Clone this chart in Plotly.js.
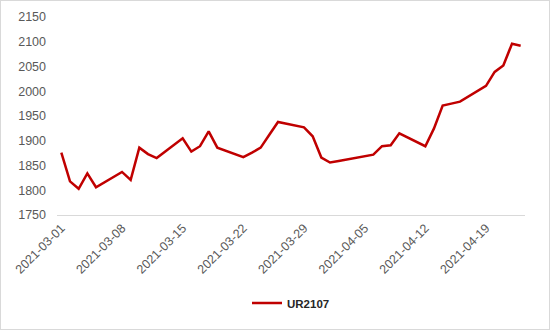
<!DOCTYPE html>
<html>
<head>
<meta charset="utf-8">
<script src="https://cdn.plot.ly/plotly-3.0.1.min.js"></script>
<style>
  html, body { margin: 0; padding: 0; background: #fff; }
  #chart { width: 548px; height: 328px; border: 1px solid #d9d9d9; }
</style>
</head>
<body>
<div id="chart"></div>
<script>
// Trading dates
const dates = [
  '2021-03-01','2021-03-02','2021-03-03','2021-03-04','2021-03-05',
  '2021-03-08','2021-03-09','2021-03-10','2021-03-11','2021-03-12',
  '2021-03-15','2021-03-16','2021-03-17','2021-03-18','2021-03-19',
  '2021-03-22','2021-03-23','2021-03-24','2021-03-25','2021-03-26',
  '2021-03-29','2021-03-30','2021-03-31','2021-04-01','2021-04-02',
  '2021-04-06','2021-04-07','2021-04-08','2021-04-09',
  '2021-04-12','2021-04-13','2021-04-14','2021-04-15','2021-04-16',
  '2021-04-19','2021-04-20','2021-04-21','2021-04-22','2021-04-23'
];
// UR2107 prices
const ur2107 = [
  1876, 1818, 1803, 1834, 1806,
  1837, 1821, 1886, 1873, 1865,
  1905, 1878, 1889, 1919, 1886,
  1867, 1876, 1886, 1912, 1938,
  1927, 1909, 1866, 1856, 1859,
  1872, 1889, 1891, 1915,
  1889, 1925, 1971, 1975, 1979,
  2011, 2039, 2052, 2096, 2092
];
const seriesName = 'UR2107';

const tickFont = { family: 'Liberation Sans, Arial, sans-serif', size: 12.5, color: '#595959' };

const trace = {
  x: dates,
  y: ur2107,
  type: 'scatter',
  mode: 'lines',
  name: seriesName,
  line: { color: '#C00000', width: 2.5 },
  showlegend: true
};

const layout = {
  width: 548,
  height: 328,
  margin: { l: 56, r: 24, t: 16, b: 111 },
  paper_bgcolor: '#ffffff',
  plot_bgcolor: '#ffffff',
  font: tickFont,
  xaxis: {
    type: 'date',
    range: ['2021-02-28 12:00', '2021-04-23 12:00'],
    tick0: '2021-03-01',
    dtick: 7 * 86400000,
    tickformat: '%Y-%m-%d',
    tickangle: -45,
    tickfont: tickFont,
    showgrid: false,
    zeroline: false,
    showline: true,
    linecolor: '#d9d9d9',
    linewidth: 1,
    ticks: ''
  },
  yaxis: {
    range: [1750, 2150],
    dtick: 50,
    tickfont: tickFont,
    showgrid: false,
    zeroline: false,
    showline: false,
    ticks: '',
    ticklabelstandoff: 10
  },
  showlegend: true,
  legend: {
    orientation: 'h',
    x: 0.5,
    xanchor: 'center',
    y: -0.445,
    yanchor: 'middle',
    font: { family: 'Liberation Sans, Arial, sans-serif', size: 11.5, color: '#262626', weight: 'bold' }
  }
};

Plotly.newPlot('chart', [trace], layout, { staticPlot: true, displayModeBar: false });
</script>
</body>
</html>
